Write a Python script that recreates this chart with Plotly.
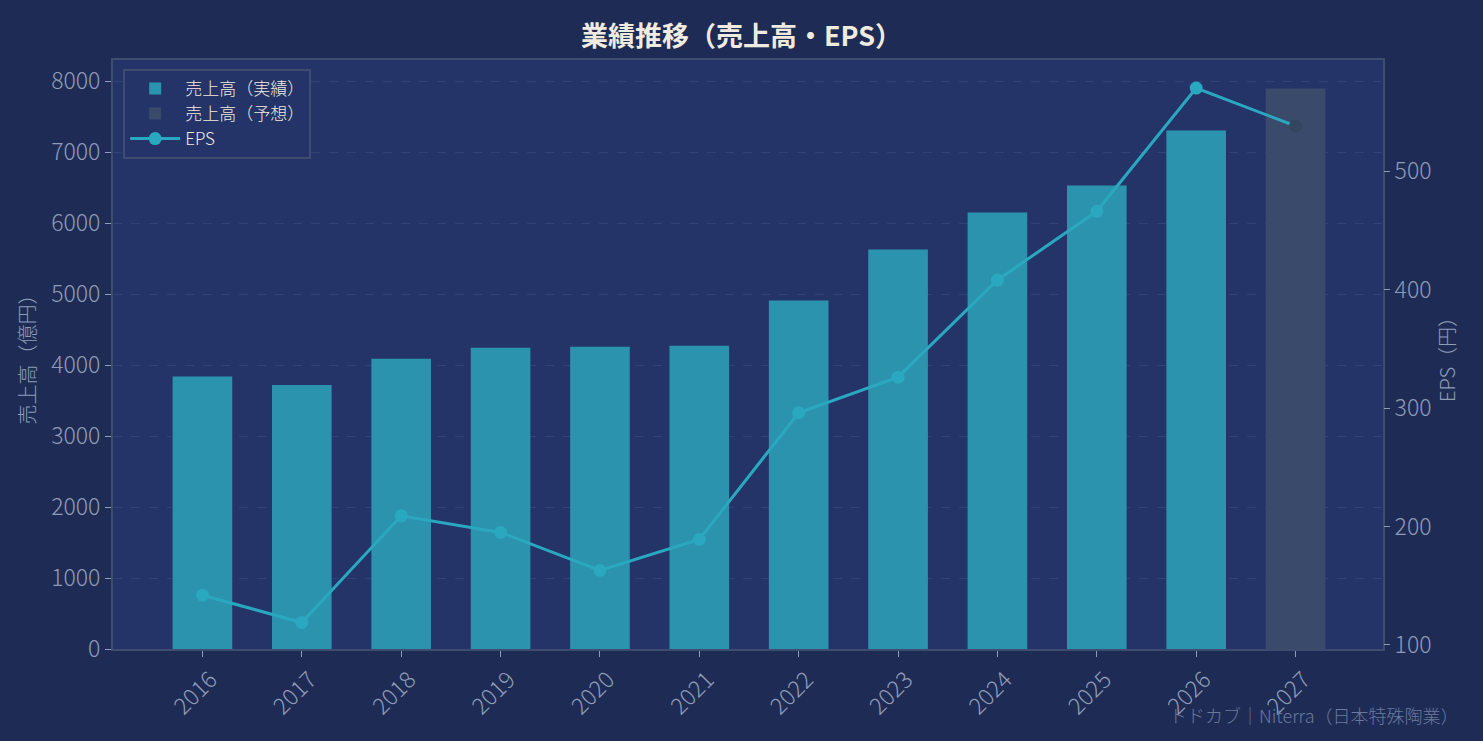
import plotly.graph_objects as go

years = ["2016", "2017", "2018", "2019", "2020", "2021",
         "2022", "2023", "2024", "2025", "2026", "2027"]
sales_actual = [3840, 3720, 4090, 4245, 4260, 4275, 4910, 5630, 6150, 6530, 7305, None]
sales_forecast = [None] * 11 + [7900]
eps = [142, 119, 209, 195, 163, 189, 296, 326, 408, 466, 570, 538]

BG = "#1e2b54"
PLOT_BG = "#243468"
TXT = "#8e9cb9"
FRAME = "#3e4c70"
FONT = "Noto Sans CJK JP"

eps_marker_colors = ["#2aa8bf"] * 11 + ["#34465f"]

fig = go.Figure()
fig.add_trace(go.Bar(x=years, y=sales_actual, name="売上高（実績）",
                     marker=dict(color="#2b93ad", line=dict(width=0)), width=0.6))
fig.add_trace(go.Bar(x=years, y=sales_forecast, name="売上高（予想）",
                     marker=dict(color="#3a4a6b", line=dict(width=0)), width=0.6))
fig.add_trace(go.Scatter(x=years, y=eps, name="EPS", yaxis="y2", mode="lines+markers",
                         line=dict(color="#2aa8bf", width=3),
                         marker=dict(size=13, color=eps_marker_colors)))

tick_font = dict(family=FONT, size=23, color=TXT, weight=300)
title_font = dict(family=FONT, size=20, color=TXT, weight=300)

fig.update_layout(
    width=1483, height=741,
    paper_bgcolor=BG, plot_bgcolor=PLOT_BG,
    barmode="overlay",
    font=dict(family=FONT, color=TXT, size=17),
    title=dict(text="<b>業績推移（売上高・EPS）</b>", x=0.5, xanchor="center", y=0.963,
               font=dict(family=FONT, size=27, color="#f0ebe0")),
    margin=dict(l=113, r=100, t=60, b=92),
    showlegend=True,
    legend=dict(x=0.008, y=0.985, xanchor="left", yanchor="top",
                bgcolor=PLOT_BG, bordercolor=FRAME, borderwidth=2,
                font=dict(family=FONT, size=17, color="#f0ebe0", weight=300),
                tracegroupgap=6, itemwidth=50),
    xaxis=dict(type="category", range=[-0.9, 11.88], tickangle=-45,
               showline=True, linecolor=FRAME, linewidth=2, mirror=True,
               ticks="outside", tickcolor=TXT, ticklen=6, showgrid=False,
               ticklabelshift=8, tickfont=tick_font),
    yaxis=dict(range=[0, 8300], dtick=1000,
               title=dict(text="売上高（億円）", font=title_font, standoff=10),
               showline=True, linecolor=FRAME, linewidth=2, mirror=True,
               ticks="outside", tickcolor=TXT, ticklen=6,
               gridcolor="#31427a", griddash="dash", gridwidth=1, zeroline=False,
               tickfont=tick_font),
    yaxis2=dict(overlaying="y", side="right", range=[96.6, 593.7],
                title=dict(text="EPS（円）", font=title_font, standoff=8),
                showgrid=False, zeroline=False, ticks="outside", tickcolor=TXT, ticklen=6,
                tickvals=[100, 200, 300, 400, 500],
                tickfont=tick_font),
)

fig.add_annotation(text="トドカブ｜Niterra（日本特殊陶業）", xref="paper", yref="paper",
                   x=1.061, y=-0.086, xanchor="right", yanchor="top", showarrow=False,
                   font=dict(family=FONT, size=18, color="#6a7a9c", weight=300))

fig.write_html("out.html", config={"displayModeBar": False},
               post_script="document.body.style.margin='0';")
